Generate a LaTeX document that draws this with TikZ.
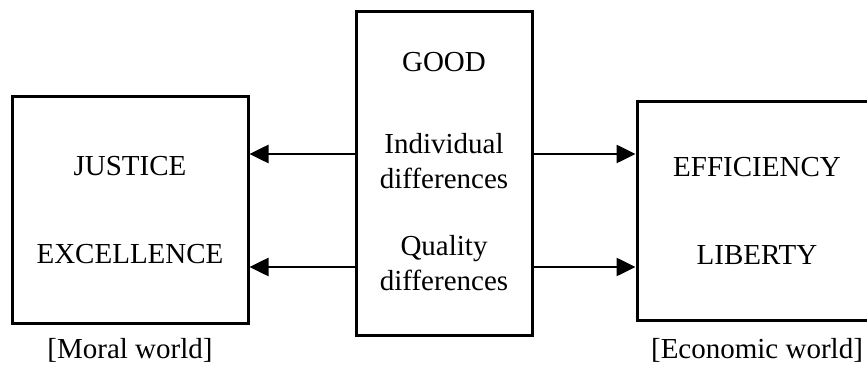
\documentclass[tikz,border=0pt]{standalone}
\usepackage{fontspec}
\setmainfont{Liberation Serif}
\usetikzlibrary{arrows.meta,positioning}

\begin{document}
\begin{tikzpicture}[x=1pt,y=1pt,>={Triangle[length=19pt,width=18pt]},font=\fontsize{29}{34.8}\selectfont]
\tikzset{world/.style={draw,line width=3pt,align=center,inner sep=0pt}}
\tikzset{link/.style={->,line width=2.6pt}}
\tikzset{tag/.style={inner sep=0pt}}
\useasboundingbox (0,0) rectangle (867,367);
% the three boxes
\node[world,minimum width=236pt,minimum height=226pt] (moral) at (130,157) {JUSTICE\\[53pt]EXCELLENCE};
\node[world,minimum width=176pt,minimum height=323pt] (good) at (444,193.5) {GOOD\\[48pt]Individual\\differences\\[32pt]Quality\\differences\\[-30pt]\mbox{}};
\node[world,minimum width=240pt,minimum height=218pt] (econ) at (757,156) {EFFICIENCY\\[53pt]LIBERTY};
% captions under the outer boxes
\node[tag,below=14pt of moral] (morallbl) {[Moral world]};
\node[tag,below=17pt of econ] (econlbl) {[Economic world]};
% arrow heights
\coordinate (up) at (0,213);
\coordinate (lo) at (0,100);
\draw[link] (good.west |- up) -- (moral.east |- up);
\draw[link] (good.west |- lo) -- (moral.east |- lo);
\draw[link] (good.east |- up) -- (econ.west |- up);
\draw[link] (good.east |- lo) -- (econ.west |- lo);
\end{tikzpicture}
\end{document}
